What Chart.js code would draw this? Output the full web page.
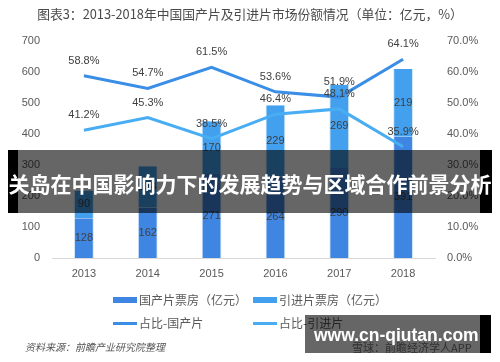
<!DOCTYPE html>
<html>
<head>
<meta charset="utf-8">
<script src="https://cdn.jsdelivr.net/npm/chart.js@4.4.0/dist/chart.umd.min.js"></script>
<style>
  html, body { margin: 0; padding: 0; background: #fff; }
  #wrap { position: relative; width: 500px; height: 362px; overflow: hidden; font-family: "Noto Sans CJK SC", "Liberation Sans", sans-serif; }
  #c { position: absolute; left: 0; top: 0; }
  .title { position: absolute; left: 0; top: 5px; width: 500px; text-align: center; font-size: 12.8px; color: #4a4a4a; line-height: 18px; }
  .lg { position: absolute; font-size: 12px; color: #595959; line-height: 16px; white-space: nowrap; }
  .sw { position: absolute; }
  .src { position: absolute; left: 25px; top: 340px; font-size: 10px; font-style: italic; color: #555; line-height: 14px; }
  .src2 { position: absolute; left: 352px; top: 340px; font-size: 11px; color: #777; line-height: 14px; white-space: nowrap; }
  .blk { position: absolute; background: #000; }
  .shade { position: absolute; background: rgba(0,0,0,0.6); }
  .btx { position: absolute; left: 0; top: 150px; width: 500px; text-align: center; line-height: 63px; font-size: 21px; font-weight: bold; color: #fff; margin-top: 2px; }
  .wtx { position: absolute; left: 314px; top: 315px; line-height: 40px; font-family: "Liberation Sans", sans-serif; font-weight: bold; font-size: 17.5px; color: #fff; }
</style>
</head>
<body>
<div id="wrap">
  <canvas id="c" width="500" height="362"></canvas>
  <div class="title">图表3：2013-2018年中国国产片及引进片市场份额情况（单位：亿元，%）</div>

  <div class="sw" style="left:113px;top:297px;width:24px;height:6px;background:#3F86E2"></div>
  <div class="lg" style="left:139px;top:292px">国产片票房（亿元）</div>
  <div class="sw" style="left:253px;top:297px;width:24px;height:6px;background:#42A0EE"></div>
  <div class="lg" style="left:279px;top:292px">引进片票房（亿元）</div>
  <div class="sw" style="left:113px;top:322px;width:24px;height:3px;background:#3A8EE6"></div>
  <div class="lg" style="left:139px;top:315px">占比-国产片</div>
  <div class="sw" style="left:253px;top:322px;width:24px;height:3px;background:#48ADF2"></div>
  <div class="lg" style="left:279px;top:315px">占比-引进片</div>

  <div class="src">资料来源：前瞻产业研究院整理</div>
  <div class="src2">雪球：前瞻经济学人APP</div>

  <div class="blk" style="left:8px;top:150px;width:10px;height:63px"></div>
  <div class="shade" style="left:18px;top:150px;width:462px;height:63px"></div>
  <div class="blk" style="left:480px;top:150px;width:12px;height:63px"></div>
  <div class="btx">关岛在中国影响力下的发展趋势与区域合作前景分析</div>

  <div class="shade" style="left:305px;top:315px;width:175px;height:38px"></div>
  <div class="blk" style="left:480px;top:315px;width:11px;height:38px"></div>
  <div class="wtx">www.cn-qiutan.com</div>
</div>
<script>
const categories = ['2013', '2014', '2015', '2016', '2017', '2018'];
const domesticBox = [128, 162, 271, 264, 290, 391];
const importBox = [90, 134, 170, 229, 269, 219];
const domesticShare = [58.8, 54.7, 61.5, 53.6, 51.9, 64.1];
const importShare = [41.2, 45.3, 38.5, 46.4, 48.1, 35.9];
const leftTicks = [0, 100, 200, 300, 400, 500, 600, 700];
const rightTicks = [0, 10, 20, 30, 40, 50, 60, 70];

const labelPlugin = {
  id: 'valueLabels',
  afterDatasetsDraw(chart) {
    const ctx = chart.ctx;
    ctx.save();
    ctx.font = '11px "Liberation Sans", sans-serif';
    ctx.fillStyle = '#404040';
    ctx.textAlign = 'center';
    ctx.textBaseline = 'middle';
    chart.data.datasets.forEach((ds, i) => {
      const meta = chart.getDatasetMeta(i);
      meta.data.forEach((el, j) => {
        const v = ds.data[j];
        if (ds.type === 'bar') {
          const y = (el.y + el.base) / 2;
          ctx.fillText(String(v), el.x, y);
        } else {
          ctx.fillText(v.toFixed(1) + '%', el.x, el.y - 15);
        }
      });
    });
    ctx.restore();
  }
};

new Chart(document.getElementById('c'), {
  data: {
    labels: categories,
    datasets: [
      { type: 'line', label: '占比-国产片', data: domesticShare, yAxisID: 'y1', borderColor: '#3A8EE6', borderWidth: 3, pointRadius: 0, tension: 0, order: 0 },
      { type: 'line', label: '占比-引进片', data: importShare, yAxisID: 'y1', borderColor: '#48ADF2', borderWidth: 3, pointRadius: 0, tension: 0, order: 0 },
      { type: 'bar', label: '国产片票房（亿元）', data: domesticBox, yAxisID: 'y', stack: 's', backgroundColor: '#3F86E2', borderColor: 'rgba(200,225,250,0.9)', borderWidth: {left:1,right:1,top:0,bottom:0}, borderSkipped: false, barPercentage: 0.31, categoryPercentage: 1.0, order: 1 },
      { type: 'bar', label: '引进片票房（亿元）', data: importBox, yAxisID: 'y', stack: 's', backgroundColor: '#42A0EE', borderColor: 'rgba(200,225,250,0.9)', borderWidth: {left:1,right:1,top:0,bottom:0}, borderSkipped: false, barPercentage: 0.31, categoryPercentage: 1.0, order: 1 }
    ]
  },
  options: {
    responsive: false,
    animation: false,
    layout: { padding: { top: 41, left: 12, right: 12, bottom: 74 } },
    plugins: { legend: { display: false }, title: { display: false }, tooltip: { enabled: false } },
    scales: {
      x: {
        stacked: true,
        grid: { display: false, drawTicks: false },
        border: { display: true, color: '#d9d9d9', width: 1 },
        ticks: { color: '#595959', font: { size: 11, family: '"Liberation Sans", sans-serif' }, padding: 9 },
        afterFit(s) { s.height = 30; }
      },
      y: {
        stacked: true,
        position: 'left',
        min: 0, max: 700,
        afterBuildTicks(s) { s.ticks = leftTicks.map(v => ({ value: v })); },
        grid: { display: false, drawTicks: false },
        border: { display: false },
        ticks: { color: '#595959', font: { size: 11, family: '"Liberation Sans", sans-serif' }, padding: 12 },
        afterFit(s) { s.width = 40; }
      },
      y1: {
        stacked: false,
        position: 'right',
        min: 0, max: 70,
        afterBuildTicks(s) { s.ticks = rightTicks.map(v => ({ value: v })); },
        grid: { display: false, drawTicks: false },
        border: { display: false },
        ticks: { color: '#595959', font: { size: 11, family: '"Liberation Sans", sans-serif' }, padding: 12, callback: v => Number(v).toFixed(1) + '%' },
        afterFit(s) { s.width = 53; }
      }
    }
  },
  plugins: [labelPlugin]
});
</script>
</body>
</html>
